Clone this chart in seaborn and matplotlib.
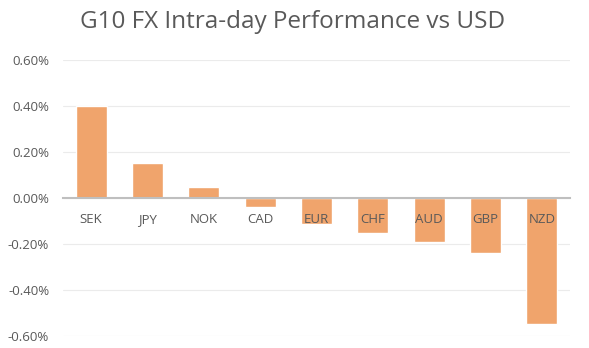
import matplotlib
matplotlib.use("Agg")
import matplotlib.pyplot as plt
import seaborn as sns
import pandas as pd
from matplotlib.ticker import FuncFormatter, MultipleLocator

currencies = ["SEK", "JPY", "NOK", "CAD", "EUR", "CHF", "AUD", "GBP", "NZD"]
performance = [0.40, 0.152, 0.046, -0.041, -0.111, -0.153, -0.192, -0.238, -0.549]

df = pd.DataFrame({"currency": currencies, "perf": performance})

sns.set_theme(style="white")
plt.rcParams["font.family"] = ["Open Sans", "DejaVu Sans"]

fig = plt.figure(figsize=(5.89, 3.48), dpi=100)
ax = fig.add_axes([63 / 589, 1 - 336 / 348, (570 - 63) / 589, (336 - 60) / 348])

sns.barplot(data=df, x="currency", y="perf", color="#F0A46C", saturation=1,
            width=0.55, ax=ax, zorder=2)

ax.set_ylim(-0.6, 0.6)
ax.yaxis.set_major_locator(MultipleLocator(0.2))
ax.yaxis.set_major_formatter(FuncFormatter(lambda v, p: f"{v:.2f}%"))
ax.grid(axis="y", color="#EBEBEB", linewidth=0.8)
ax.set_axisbelow(True)
ax.xaxis.set_zorder(4)

for s in ["top", "right", "left"]:
    ax.spines[s].set_visible(False)
ax.spines["bottom"].set_position(("data", 0))
ax.spines["bottom"].set_color("#BFBFBF")
ax.spines["bottom"].set_linewidth(1.5)
ax.spines["bottom"].set_zorder(3)

ax.tick_params(axis="x", length=0, pad=11, labelsize=9.5, labelcolor="#595959")
ax.tick_params(axis="y", length=0, pad=10, labelsize=9.5, labelcolor="#595959")
ax.set_xlabel("")
ax.set_ylabel("")

fig.text(0.497, 1 - 22 / 348, "G10 FX Intra-day Performance vs USD", ha="center", va="center",
         fontsize=17.5, color="#595959")

fig.savefig("out.png", dpi=100, facecolor="white")
